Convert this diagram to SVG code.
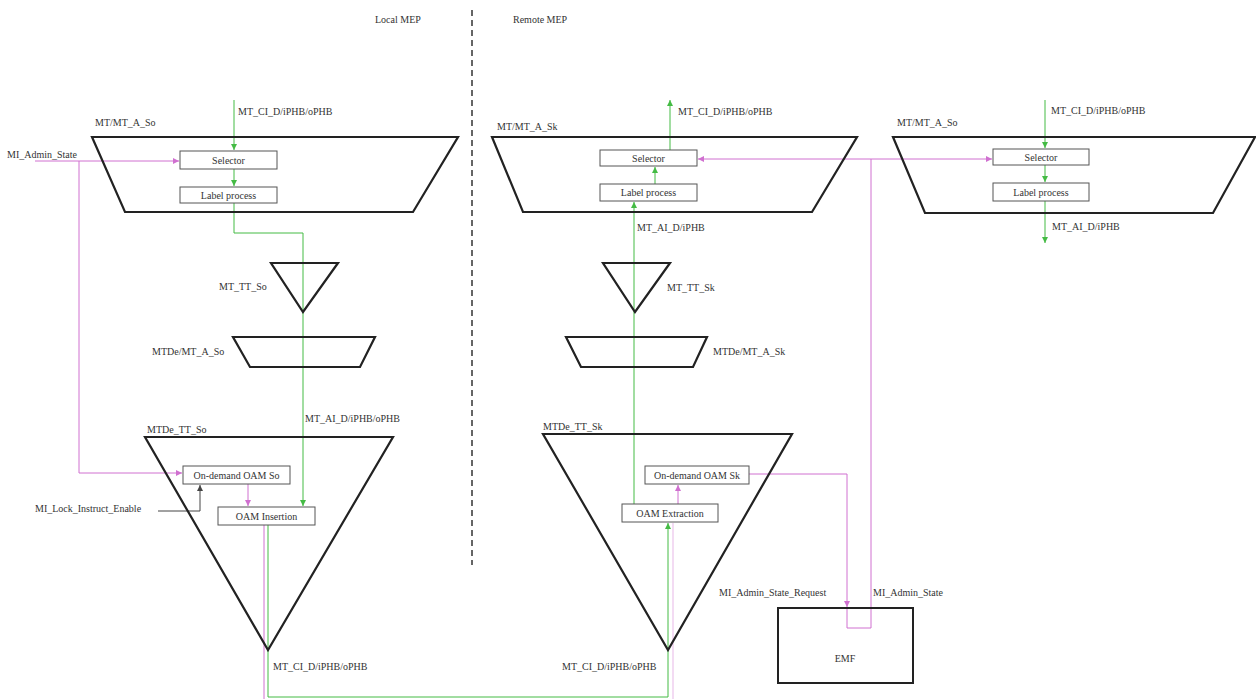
<svg xmlns="http://www.w3.org/2000/svg" width="1256" height="699" viewBox="0 0 1256 699">
<style>
text{font-family:"Liberation Serif","DejaVu Serif",serif;font-size:10px;fill:#333}
.c{text-anchor:middle}
.shape{fill:none;stroke:#222;stroke-width:2.2;stroke-linejoin:miter}
.box{fill:#fff;stroke:#555;stroke-width:1}
.g{fill:none;stroke:#44bb44;stroke-width:1}
.m{fill:none;stroke:#d070d0;stroke-width:1}
.k{fill:none;stroke:#444;stroke-width:1}
.dash{fill:none;stroke:#333;stroke-width:1.5;stroke-dasharray:6 4}
</style>
<defs>
<marker id="ag" viewBox="0 0 8 8" refX="8" refY="4" markerWidth="6" markerHeight="6" markerUnits="userSpaceOnUse" orient="auto"><path d="M0,0 L8,4 L0,8 Z" fill="#44bb44"/></marker>
<marker id="am" viewBox="0 0 8 8" refX="8" refY="4" markerWidth="6" markerHeight="6" markerUnits="userSpaceOnUse" orient="auto"><path d="M0,0 L8,4 L0,8 Z" fill="#d070d0"/></marker>
<marker id="ak" viewBox="0 0 8 8" refX="8" refY="4" markerWidth="6" markerHeight="6" markerUnits="userSpaceOnUse" orient="auto"><path d="M0,0 L8,4 L0,8 Z" fill="#444"/></marker>
</defs>
<rect width="1256" height="699" fill="#fff"/>

<line class="dash" x1="472" y1="10" x2="472" y2="565"/>
<text x="375" y="23">Local MEP</text>
<text x="513" y="23">Remote MEP</text>

<g id="connectors">
  <path class="g" d="M234 100 V150" marker-end="url(#ag)"/>
  <path class="g" d="M234 169 V186" marker-end="url(#ag)"/>
  <path class="g" d="M234 203 V233 H303 V506" marker-end="url(#ag)"/>
  <path class="m" d="M35 161 H179" marker-end="url(#am)"/>
  <path class="m" d="M79 161 V473 H182" marker-end="url(#am)"/>
  <path class="m" d="M248 484 V506" marker-end="url(#am)"/>
  <path class="k" d="M158 511 H200 V485" marker-end="url(#ak)"/>
  <path class="m" d="M264 525 V699"/>
  <path class="g" d="M268 525 V697 H668 V523" marker-end="url(#ag)"/>
  <path class="m" d="M673 699 V523" opacity="0.5"/>
  <path class="g" d="M670 150 V100" marker-end="url(#ag)"/>
  <path class="g" d="M655 184 V167" marker-end="url(#ag)"/>
  <path class="g" d="M634 504 V202" marker-end="url(#ag)"/>
  <path class="m" d="M678 504 V485" marker-end="url(#am)"/>
  <path class="m" d="M749 474 H847 V607" marker-end="url(#am)"/>
  <path class="m" d="M847 608 V628 H871 V608"/>
  <path class="m" d="M871 609 V159"/>
  <path class="m" d="M871 159 H698" marker-end="url(#am)"/>
  <path class="m" d="M871 159 H992" marker-end="url(#am)"/>
  <path class="g" d="M1045 100 V148" marker-end="url(#ag)"/>
  <path class="g" d="M1045 165 V182" marker-end="url(#ag)"/>
  <path class="g" d="M1045 201 V243" marker-end="url(#ag)"/>
</g>

<g id="mt_a_so">
  <polygon class="shape" points="92,137 458,137 413,212 125,212"/>
  <text x="95" y="126">MT/MT_A_So</text>
  <text x="238" y="115">MT_CI_D/iPHB/oPHB</text>
  <text x="7" y="158">MI_Admin_State</text>
</g>
<g id="selector_so">
  <rect class="box" x="180" y="151" width="97" height="18"/>
  <text class="c" x="228.5" y="163.5">Selector</text>
</g>
<g id="label_so">
  <rect class="box" x="180" y="187" width="97" height="16"/>
  <text class="c" x="228.5" y="198.5">Label process</text>
</g>
<g id="mt_tt_so">
  <polygon class="shape" points="271,263 338,263 303,312"/>
  <text x="219" y="290">MT_TT_So</text>
</g>
<g id="mtde_mt_a_so">
  <polygon class="shape" points="233,337 375,337 360,367 250,367"/>
  <text x="152" y="355">MTDe/MT_A_So</text>
  <text x="305" y="422">MT_AI_D/iPHB/oPHB</text>
</g>
<g id="mtde_tt_so">
  <polygon class="shape" points="145,437 393,437 268,650"/>
  <text x="147" y="433">MTDe_TT_So</text>
  <text x="35" y="512">MI_Lock_Instruct_Enable</text>
  <text x="273" y="670">MT_CI_D/iPHB/oPHB</text>
</g>
<g id="ondemand_so">
  <rect class="box" x="183" y="466" width="107" height="18"/>
  <text class="c" x="236.5" y="479">On-demand OAM So</text>
</g>
<g id="oam_insertion">
  <rect class="box" x="218" y="507" width="97" height="18"/>
  <text class="c" x="266.5" y="519.5">OAM Insertion</text>
</g>

<g id="mt_a_sk">
  <polygon class="shape" points="492,137 857,137 812,212 523,212"/>
  <text x="497" y="130">MT/MT_A_Sk</text>
  <text x="678" y="115">MT_CI_D/iPHB/oPHB</text>
  <text x="637" y="231">MT_AI_D/iPHB</text>
</g>
<g id="selector_sk">
  <rect class="box" x="600" y="150" width="97" height="16"/>
  <text class="c" x="648.5" y="161.5">Selector</text>
</g>
<g id="label_sk">
  <rect class="box" x="600" y="184" width="97" height="17"/>
  <text class="c" x="648.5" y="196">Label process</text>
</g>
<g id="mt_tt_sk">
  <polygon class="shape" points="603,263 670,263 635,312"/>
  <text x="667" y="291">MT_TT_Sk</text>
</g>
<g id="mtde_mt_a_sk">
  <polygon class="shape" points="566,337 707,337 693,367 581,367"/>
  <text x="713" y="355">MTDe/MT_A_Sk</text>
</g>
<g id="mtde_tt_sk">
  <polygon class="shape" points="543,434 792,434 668,650"/>
  <text x="543" y="430">MTDe_TT_Sk</text>
  <text x="562" y="670">MT_CI_D/iPHB/oPHB</text>
</g>
<g id="ondemand_sk">
  <rect class="box" x="645" y="466" width="104" height="18"/>
  <text class="c" x="697" y="479">On-demand OAM Sk</text>
</g>
<g id="oam_extraction">
  <rect class="box" x="622" y="504" width="96" height="18"/>
  <text class="c" x="670" y="516.5">OAM Extraction</text>
</g>
<g id="emf">
  <rect x="778" y="608" width="135" height="75" fill="none" stroke="#222" stroke-width="2"/>
  <text class="c" x="845" y="662">EMF</text>
  <text x="719" y="596">MI_Admin_State_Request</text>
  <text x="873" y="596">MI_Admin_State</text>
</g>

<g id="mt_a_so_2">
  <polygon class="shape" points="893,137 1255,137 1213,213 925,213"/>
  <text x="897" y="126">MT/MT_A_So</text>
  <text x="1051" y="114">MT_CI_D/iPHB/oPHB</text>
  <text x="1052" y="230">MT_AI_D/iPHB</text>
</g>
<g id="selector_so_2">
  <rect class="box" x="993" y="149" width="96" height="16"/>
  <text class="c" x="1041" y="160.5">Selector</text>
</g>
<g id="label_so_2">
  <rect class="box" x="993" y="183" width="96" height="18"/>
  <text class="c" x="1041" y="195.5">Label process</text>
</g>
</svg>
